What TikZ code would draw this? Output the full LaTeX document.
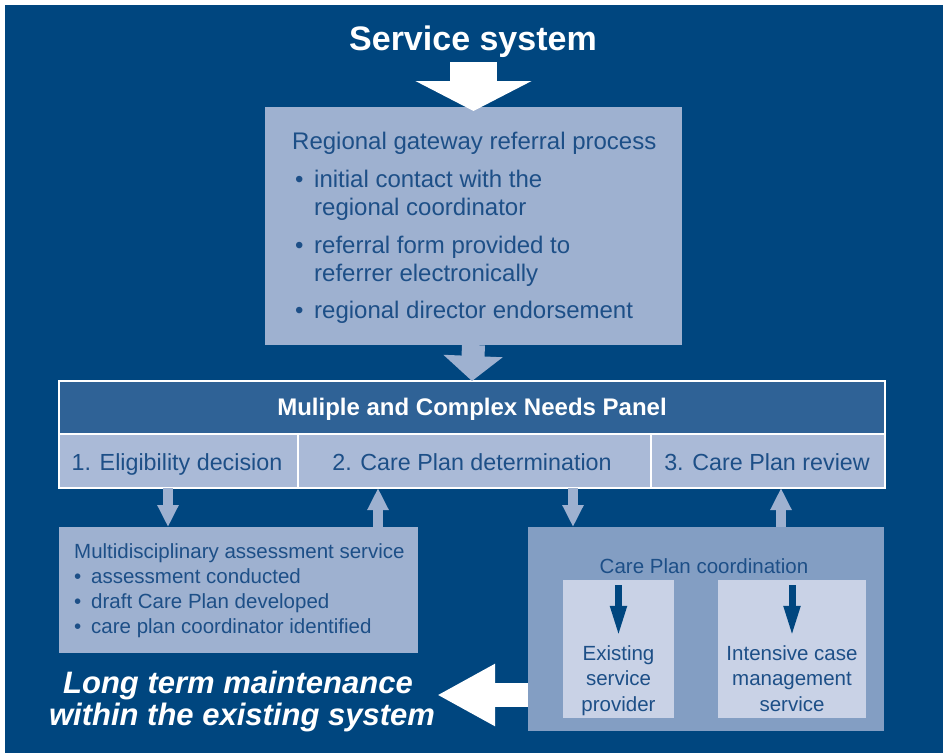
\documentclass[tikz,border=0pt]{standalone}
\usepackage{fontspec}
\setmainfont{Liberation Sans}
\usetikzlibrary{arrows.meta}

\definecolor{bgblue}{HTML}{00467F}
\definecolor{paleblue}{HTML}{9EB1D0}
\definecolor{panelblue}{HTML}{2F6296}
\definecolor{cellblue}{HTML}{AABAD7}
\definecolor{coordblue}{HTML}{839EC3}
\definecolor{innerblue}{HTML}{C9D2E6}
\definecolor{inkblue}{HTML}{1D4F87}

\begin{document}
\begin{tikzpicture}[x=1pt,y=-1pt,
  area/.style={inner sep=0pt, outer sep=0pt, anchor=north west, draw=none},
  cell/.style={area, draw=white, line width=2pt},
  ltxt/.style={inner sep=0pt, anchor=base west, text=inkblue},
  ctxt/.style={inner sep=0pt, anchor=base, text=inkblue},
  bodyfont/.style={font=\fontsize{23.3}{28}\selectfont},
  smallfont/.style={font=\fontsize{20.5}{24}\selectfont},
  paleflow/.style={draw=paleblue, line width=10pt,
    -{Triangle[width=20pt,length=22pt]}},
  darkflow/.style={draw=bgblue, line width=7pt,
    -{Triangle[width=15pt,length=31pt]}},
]
\useasboundingbox (0,0) rectangle (943,753);
\fill[white] (0,0) rectangle (943,753);
\fill[bgblue] (5,5) rectangle (943,753);

% heading
\node[inner sep=0pt, anchor=base, text=white,
      font=\fontsize{34}{40}\bfseries] (title) at (473,50) {Service system};

% regional gateway box
\node[area, fill=paleblue, minimum width=417pt, minimum height=238pt]
  (gate) at (265,107) {};
\node[ltxt, font=\fontsize{24}{28}\selectfont] (g0) at (292,149)
  {Regional gateway referral process};
\begin{scope}[font=\fontsize{24}{28}\selectfont]
  \node[ltxt] (gb1) at (295,187) {•};
  \node[ltxt] (g1a) at (314,187) {initial contact with the};
  \node[ltxt] (g1b) at (314,215) {regional coordinator};
  \node[ltxt] (gb2) at (295,253) {•};
  \node[ltxt] (g2a) at (314,253) {referral form provided to};
  \node[ltxt] (g2b) at (314,281) {referrer electronically};
  \node[ltxt] (gb3) at (295,318) {•};
  \node[ltxt] (g3)  at (314,318) {regional director endorsement};
\end{scope}

% panel
\node[cell, fill=panelblue, minimum width=826pt, minimum height=53pt]
  (panel) at (59,381) {};
\node[cell, fill=cellblue, minimum width=239pt, minimum height=54pt]
  (cell1) at (59,434) {};
\node[cell, fill=cellblue, minimum width=353pt, minimum height=54pt]
  (cell2) at (298,434) {};
\node[cell, fill=cellblue, minimum width=234pt, minimum height=54pt]
  (cell3) at (651,434) {};
\node[inner sep=0pt, anchor=base, text=white,
      font=\fontsize{24}{28}\bfseries] (ptitle) at (472,415)
  {Muliple and Complex Needs Panel};
\node[ctxt, bodyfont] (c1) at (177,470) {1. Eligibility decision};
\node[ctxt, bodyfont] (c2) at (472,470) {2. Care Plan determination};
\node[ctxt, bodyfont] (c3) at (767,470) {3. Care Plan review};

% multidisciplinary assessment
\node[area, fill=paleblue, minimum width=359pt, minimum height=126pt]
  (multi) at (59,527) {};
\begin{scope}[smallfont]
  \node[ltxt] (m0) at (74,558) {Multidisciplinary assessment service};
  \node[ltxt] (mb1) at (74,583) {•};
  \node[ltxt] (m1) at (91,583) {assessment conducted};
  \node[ltxt] (mb2) at (74,608) {•};
  \node[ltxt] (m2) at (91,608) {draft Care Plan developed};
  \node[ltxt] (mb3) at (74,633) {•};
  \node[ltxt] (m3) at (91,633) {care plan coordinator identified};
\end{scope}

% care plan coordination
\node[area, fill=coordblue, minimum width=356pt, minimum height=204pt]
  (coord) at (528,527) {};
\node[ctxt, smallfont] (k0) at (704,573) {Care Plan coordination};
\node[area, fill=innerblue, minimum width=111pt, minimum height=138pt]
  (inL) at (563,580) {};
\node[area, fill=innerblue, minimum width=148pt, minimum height=138pt]
  (inR) at (718,580) {};
\begin{scope}[smallfont]
  \node[ctxt] (eL1) at (618.5,660) {Existing};
  \node[ctxt] (eL2) at (618.5,685.5) {service};
  \node[ctxt] (eL3) at (618.5,711) {provider};
  \node[ctxt] (eR1) at (792,660) {Intensive case};
  \node[ctxt] (eR2) at (792,685.5) {management};
  \node[ctxt] (eR3) at (792,711) {service};
\end{scope}

% long term maintenance
\node[inner sep=0pt, anchor=base, text=white,
      font=\fontsize{31}{36}\bfseries\itshape] (lt1) at (238,693)
  {Long term maintenance};
\node[inner sep=0pt, anchor=base, text=white,
      font=\fontsize{31}{36}\bfseries\itshape] (lt2) at (242,725)
  {within the existing system};

% flows
\coordinate (src) at (473.5,62);
\draw[white, line width=47pt, -{Triangle[width=115pt,length=30pt]},
      shorten >=-4pt] (src) -- (gate.north);
\draw[draw=paleblue, line width=23pt, -{Triangle[width=58pt,length=25pt]}]
  (gate.south) -- (panel.north);
\draw[paleflow] ([xshift=109pt]cell1.south west) -- ([xshift=109pt]multi.north west);
\draw[paleflow] ([xshift=319pt]multi.north west) -- ([xshift=80pt]cell2.south west);
\draw[paleflow] ([xshift=275pt]cell2.south west) -- ([xshift=45pt]coord.north west);
\draw[paleflow] ([xshift=253pt]coord.north west) -- ([xshift=130pt]cell3.south west);
\draw[darkflow] ([yshift=-5pt]inL.north) -- ([yshift=8pt]eL1.north);
\draw[darkflow] ([yshift=-5pt]inR.north) -- ([yshift=8pt]eR1.north);
\coordinate (ltip) at (437,695);
\draw[white, line width=24pt, -{Triangle[width=58pt,length=58pt]}]
  ([yshift=36pt]coord.south west) -- (ltip);
\end{tikzpicture}
\end{document}
